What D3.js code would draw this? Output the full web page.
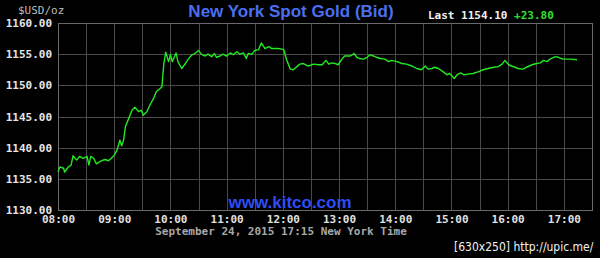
<!DOCTYPE html>
<html>
<head>
<meta charset="utf-8">
<script src="https://cdn.jsdelivr.net/npm/d3@7"></script>
<style>
  html, body { margin: 0; padding: 0; background: #000; }
  svg { display: block; }
</style>
</head>
<body>
<svg id="chart"></svg>
<script>
// price samples (New York time, USD/oz)
const times = [
  "08:00", "08:02", "08:06", "08:07", "08:11", "08:14", "08:16", "08:20", "08:23", "08:27",
  "08:31", "08:33", "08:35", "08:38", "08:41", "08:45", "08:50", "08:54", "08:57", "09:00",
  "09:03", "09:06", "09:08", "09:10", "09:12", "09:15", "09:19", "09:22", "09:26", "09:29",
  "09:31", "09:35", "09:38", "09:42", "09:45", "09:49", "09:51", "09:52", "09:53", "09:55",
  "09:58", "10:00", "10:02", "10:06", "10:08", "10:12", "10:16", "10:19", "10:23", "10:26",
  "10:30", "10:33", "10:37", "10:40", "10:44", "10:47", "10:49", "10:53", "10:56", "11:00",
  "11:04", "11:07", "11:11", "11:14", "11:18", "11:21", "11:23", "11:27", "11:30", "11:34",
  "11:37", "11:41", "11:45", "11:48", "11:52", "11:55", "11:59", "12:01", "12:04", "12:08",
  "12:11", "12:15", "12:18", "12:22", "12:27", "12:33", "12:38", "12:42", "12:46", "12:49",
  "12:52", "12:56", "12:59", "13:03", "13:06", "13:12", "13:16", "13:19", "13:22", "13:26",
  "13:30", "13:33", "13:37", "13:40", "13:44", "13:49", "13:53", "13:56", "14:02", "14:07",
  "14:12", "14:18", "14:23", "14:28", "14:32", "14:35", "14:39", "14:42", "14:46", "14:51",
  "14:55", "14:58", "15:03", "15:06", "15:10", "15:13", "15:18", "15:23", "15:29", "15:34",
  "15:39", "15:45", "15:50", "15:54", "15:57", "16:01", "16:04", "16:08", "16:11", "16:16",
  "16:20", "16:26", "16:31", "16:35", "16:38", "16:42", "16:45", "16:51", "16:54", "16:59",
  "17:07", "17:14"
]
const prices = [
  1136.1, 1136.9, 1136.7, 1136.1, 1136.9, 1137.2, 1138.7, 1138.0, 1138.6, 1138.3,
  1138.6, 1137.2, 1138.6, 1138.3, 1137.4, 1137.8, 1138.1, 1137.9, 1138.3, 1138.8,
  1139.6, 1141.2, 1140.3, 1141.2, 1143.4, 1144.5, 1146.0, 1146.5, 1145.8, 1146.0,
  1145.2, 1145.8, 1146.8, 1147.9, 1149.0, 1149.5, 1149.8, 1151.9, 1153.5, 1155.3,
  1153.8, 1154.9, 1153.8, 1155.2, 1153.8, 1152.7, 1153.5, 1154.2, 1154.9, 1155.1,
  1155.6, 1155.0, 1154.7, 1155.0, 1154.6, 1155.1, 1154.5, 1154.7, 1155.0, 1154.7,
  1155.2, 1154.9, 1155.4, 1155.0, 1155.2, 1154.3, 1155.1, 1155.0, 1155.6, 1155.7,
  1156.8, 1155.9, 1156.2, 1155.9, 1155.9, 1155.9, 1155.8, 1155.7, 1154.1, 1152.6,
  1152.5, 1153.0, 1153.4, 1153.5, 1153.1, 1153.4, 1153.3, 1153.3, 1154.0, 1153.4,
  1153.6, 1153.5, 1153.3, 1154.2, 1154.7, 1154.7, 1155.1, 1154.5, 1154.3, 1154.2,
  1154.5, 1154.9, 1154.7, 1154.5, 1154.3, 1154.2, 1153.8, 1154.0, 1153.8, 1153.5,
  1153.4, 1153.1, 1152.7, 1152.5, 1153.1, 1152.6, 1152.7, 1152.9, 1152.7, 1152.2,
  1151.7, 1151.9, 1151.1, 1151.7, 1152.0, 1151.7, 1151.8, 1151.9, 1152.2, 1152.5,
  1152.7, 1152.9, 1153.0, 1153.4, 1154.0, 1153.3, 1153.1, 1152.9, 1152.7, 1152.6,
  1152.9, 1153.3, 1153.5, 1153.6, 1154.0, 1153.8, 1154.2, 1154.6, 1154.5, 1154.2,
  1154.2, 1154.1
]
const yTicks = [1130, 1135, 1140, 1145, 1150, 1155, 1160]
const xTickLabels = ["08:00", "09:00", "10:00", "11:00", "12:00", "13:00", "14:00", "15:00", "16:00", "17:00"]
const titleText = "New York Spot Gold (Bid)"
const lastText = "Last 1154.10"
const changeText = "+23.80"
const unitText = "$USD/oz"
const dateText = "September 24, 2015 17:15 New York Time"
const siteText = "www.kitco.com"
const stampText = "[630x250] http://upic.me/"

const width = 600
const height = 258
const margin = { top: 23, right: 8, bottom: 48, left: 58 }
const innerW = width - margin.left - margin.right
const innerH = height - margin.top - margin.bottom

const parseTime = d3.timeParse("%H:%M")
const data = times.map((t, i) => ({ time: parseTime(t), price: prices[i] }))

const svg = d3.select("#chart").attr("width", width).attr("height", height)
svg.append("rect").attr("width", width).attr("height", height).attr("fill", "#000")

// scales: 08:00 -> 17:30 on x, 1130 -> 1160 on y
const xScale = d3.scaleTime()
  .domain([parseTime("08:00"), parseTime("17:30")])
  .range([0, innerW])
const yScale = d3.scaleLinear()
  .domain([yTicks[0], yTicks[yTicks.length - 1]])
  .range([innerH, 0])

const graph = svg.append("g")
  .attr("transform", `translate(${margin.left}, ${margin.top})`)

// half-hour vertical grid lines
const halfHours = d3.timeMinute.every(30).range(xScale.domain()[0], xScale.domain()[1])
graph.append("g")
  .selectAll("line")
  .data(halfHours)
  .join("line")
  .attr("x1", (d) => Math.round(xScale(d)) + 0.5)
  .attr("x2", (d) => Math.round(xScale(d)) + 0.5)
  .attr("y1", 0)
  .attr("y2", innerH)
  .attr("stroke", "#4a4a4a")
  .attr("stroke-width", 1)

// horizontal grid lines
graph.append("g")
  .selectAll("line")
  .data(yTicks)
  .join("line")
  .attr("x1", 0)
  .attr("x2", innerW)
  .attr("y1", (d) => Math.round(yScale(d)) + 0.5)
  .attr("y2", (d) => Math.round(yScale(d)) + 0.5)
  .attr("stroke", "#4a4a4a")
  .attr("stroke-width", 1)

// plot frame
graph.append("rect")
  .attr("x", 0.5)
  .attr("y", 0.5)
  .attr("width", innerW)
  .attr("height", innerH)
  .attr("fill", "none")
  .attr("stroke", "#6a6a6a")

// y axis labels, left of frame
const yAxis = d3.axisLeft(yScale)
  .tickValues(yTicks)
  .tickSize(0)
  .tickPadding(6)
  .tickFormat(d3.format(".2f"))
graph.append("g")
  .call(yAxis)
  .call((g) => g.select(".domain").remove())
  .selectAll("text")
  .attr("fill", "#e6e6e6")
  .attr("font-family", "DejaVu Sans Mono, monospace")
  .attr("font-weight", "bold")
  .attr("font-size", 11)

// x axis labels under frame
const xAxis = d3.axisBottom(xScale)
  .tickValues(xTickLabels.map(parseTime))
  .tickSize(0)
  .tickPadding(5)
  .tickFormat(d3.timeFormat("%H:%M"))
graph.append("g")
  .attr("transform", `translate(0, ${innerH})`)
  .call(xAxis)
  .call((g) => g.select(".domain").remove())
  .selectAll("text")
  .attr("fill", "#e0e0e0")
  .attr("font-family", "DejaVu Sans Mono, monospace")
  .attr("font-weight", "bold")
  .attr("font-size", 11)

// price line
const line = d3.line()
  .x((d) => xScale(d.time))
  .y((d) => yScale(d.price))
graph.append("path")
  .datum(data)
  .attr("fill", "none")
  .attr("stroke", "#22e822")
  .attr("stroke-width", 1.4)
  .attr("stroke-linejoin", "round")
  .attr("d", line)

// header texts
svg.append("text")
  .attr("x", 18)
  .attr("y", 14)
  .attr("fill", "#bdbdbd")
  .attr("font-family", "DejaVu Sans Mono, monospace")
  .attr("font-size", 11)
  .text(unitText)

svg.append("text")
  .attr("x", 291)
  .attr("y", 17)
  .attr("text-anchor", "middle")
  .attr("fill", "#4a6ff0")
  .attr("font-family", "Liberation Sans, Arial, sans-serif")
  .attr("font-weight", "bold")
  .attr("font-size", 17)
  .text(titleText)

const lastLine = svg.append("text")
  .attr("x", 428)
  .attr("y", 19)
  .attr("font-family", "DejaVu Sans Mono, monospace")
  .attr("font-weight", "bold")
  .attr("font-size", 11)
lastLine.append("tspan").attr("fill", "#f0f0f0").text(lastText + " ")
lastLine.append("tspan").attr("fill", "#2ee02e").text(changeText)

// footer texts
svg.append("text")
  .attr("x", 290)
  .attr("y", 208)
  .attr("text-anchor", "middle")
  .attr("fill", "#2f4cf5")
  .attr("font-family", "Liberation Sans, Arial, sans-serif")
  .attr("font-weight", "bold")
  .attr("font-size", 17)
  .text(siteText)

svg.append("text")
  .attr("x", 281)
  .attr("y", 235)
  .attr("text-anchor", "middle")
  .attr("fill", "#a8a8a8")
  .attr("font-family", "DejaVu Sans Mono, monospace")
  .attr("font-weight", "bold")
  .attr("font-size", 11)
  .text(dateText)

svg.append("text")
  .attr("x", 454)
  .attr("y", 251)
  .attr("fill", "#f2f2f2")
  .attr("font-family", "DejaVu Sans Condensed, sans-serif")
  .attr("font-size", 12)
  .text(stampText)
</script>
</body>
</html>
